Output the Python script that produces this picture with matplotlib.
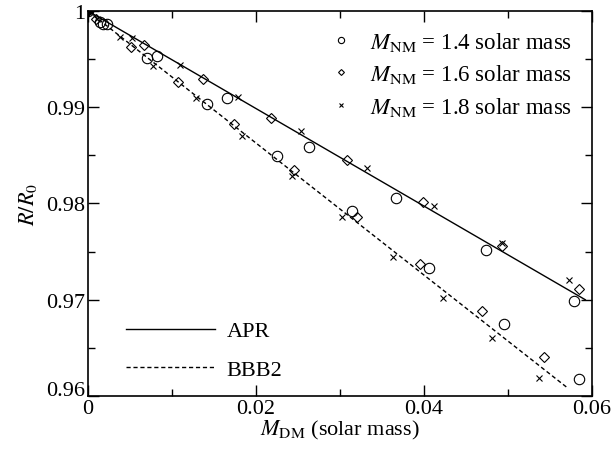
import matplotlib
matplotlib.use("Agg")
import matplotlib.pyplot as plt
import matplotlib.transforms as mtransforms

plt.rcParams["font.family"] = ["Liberation Serif", "DejaVu Serif"]
plt.rcParams["mathtext.fontset"] = "stix"
plt.rcParams["font.size"] = 16

# fitted lines
apr_x = [0.0, 0.0592]
apr_y = [1.0, 0.9700]
bbb2_x = [0.0, 0.0570]
bbb2_y = [1.0, 0.9609]

# M_NM = 1.4
m14_x = [0.0, 0.0014, 0.0018, 0.0023, 0.0070, 0.0082, 0.0142, 0.0166, 0.0225,
         0.0263, 0.0314, 0.0367, 0.0406, 0.0474, 0.0495, 0.0579, 0.0585]
m14_y = [1.0, 0.9989, 0.9986, 0.9987, 0.9951, 0.9953, 0.9903, 0.9910, 0.9849,
         0.9859, 0.9792, 0.9806, 0.9733, 0.9752, 0.9675, 0.9699, 0.9618]

# M_NM = 1.6
m16_x = [0.0, 0.0010, 0.0051, 0.0067, 0.0107, 0.0137, 0.0174, 0.0218, 0.0245,
         0.0308, 0.0320, 0.0395, 0.0399, 0.0469, 0.0493, 0.0543, 0.0585]
m16_y = [1.0, 0.9992, 0.9963, 0.9965, 0.9926, 0.9929, 0.9883, 0.9889, 0.9835,
         0.9845, 0.9786, 0.9737, 0.9802, 0.9688, 0.9756, 0.9640, 0.9711]

# M_NM = 1.8
m18_x = [0.0, 0.0011, 0.0038, 0.0052, 0.0077, 0.0110, 0.0129, 0.0179, 0.0183,
         0.0243, 0.0254, 0.0302, 0.0332, 0.0363, 0.0412, 0.0423, 0.0481, 0.0493,
         0.0537, 0.0573]
m18_y = [1.0, 0.9992, 0.9973, 0.9972, 0.9943, 0.9944, 0.9910, 0.9911, 0.9870,
         0.9829, 0.9875, 0.9786, 0.9837, 0.9744, 0.9797, 0.9702, 0.9660, 0.9759,
         0.9619, 0.9721]

fig = plt.figure(figsize=(6.14, 4.6), dpi=100)
ax = fig.add_axes([0.1433, 0.137, 0.8209, 0.8369])

ln_apr, = ax.plot(apr_x, apr_y, color="black", lw=1.0, label="APR")
ln_bbb, = ax.plot(bbb2_x, bbb2_y, color="black", lw=1.0, dashes=(3, 2), label="BBB2")

p14, = ax.plot(m14_x, m14_y, ls="none", marker="o", ms=7.5, mfc="none", mec="black",
               mew=0.8, label=r"$M_{\rm NM}$ = 1.4 solar mass")
p16, = ax.plot(m16_x, m16_y, ls="none", marker="D", ms=5, mfc="none", mec="black",
               mew=0.8, label=r"$M_{\rm NM}$ = 1.6 solar mass")
p18, = ax.plot(m18_x, m18_y, ls="none", marker="x", ms=4.5, color="black",
               mew=0.8, label=r"$M_{\rm NM}$ = 1.8 solar mass")
ax.plot([0], [1], marker="o", ms=5, color="black")

ax.set_xlim(0, 0.06)
ax.set_ylim(0.96, 1.0)
ax.set_xticks([0, 0.02, 0.04, 0.06])
ax.set_xticklabels(["0", "0.02", "0.04", "0.06"])
ax.set_xticks([0.01, 0.03, 0.05], minor=True)
ax.set_yticks([0.96, 0.97, 0.98, 0.99, 1.0])
ax.set_yticklabels(["0.96", "0.97", "0.98", "0.99", "1"])
ax.set_yticks([0.965, 0.975, 0.985, 0.995], minor=True)
ax.tick_params(which="both", direction="in", top=True, right=True, width=1.0)
ax.tick_params(which="major", length=8, pad=2)
ax.tick_params(which="minor", length=5)
for s in ax.spines.values():
    s.set_linewidth(1.2)

# lift the bottom y label a little, as in the original
lbl = ax.get_yticklabels()[0]
lbl.set_transform(lbl.get_transform() + mtransforms.ScaledTranslation(0, 8 / 100, fig.dpi_scale_trans))

ax.set_xlabel(r"$M_{\rm DM}$ (solar mass)", labelpad=0)
ax.set_ylabel(r"$R/R_0$", labelpad=5)

leg1 = ax.legend(handles=[p14, p16, p18], loc="upper right", frameon=False,
                 markerscale=0.6, handlelength=0.8, handletextpad=0.85,
                 labelspacing=0.42, borderaxespad=0.25, fontsize=16.5,
                 bbox_to_anchor=(0.99, 0.99))
ax.add_artist(leg1)
ax.legend(handles=[ln_apr, ln_bbb], loc="lower left", frameon=False,
          handlelength=4.0, handletextpad=0.55, labelspacing=0.8,
          bbox_to_anchor=(0.035, -0.01), fontsize=16)

fig.savefig("out.png", dpi=100)
